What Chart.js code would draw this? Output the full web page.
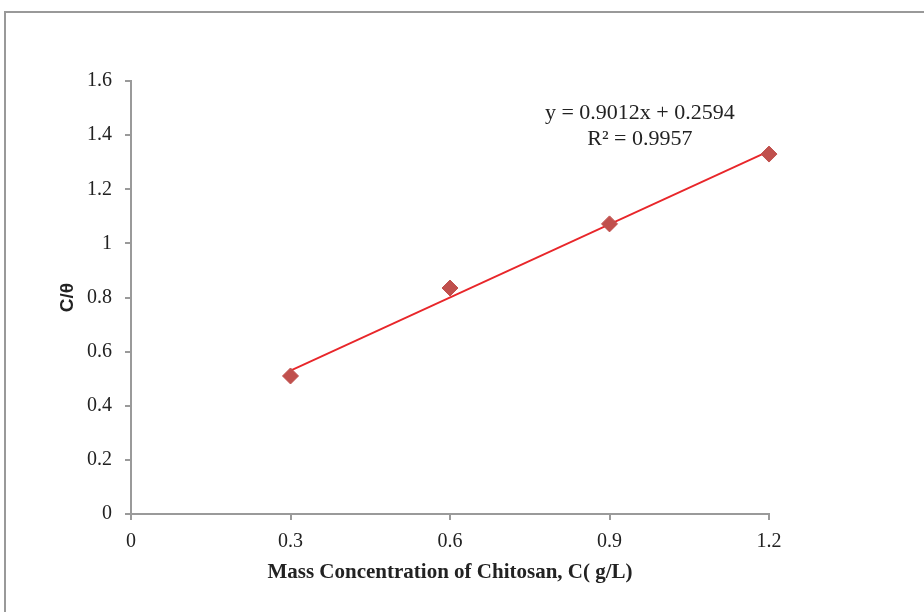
<!DOCTYPE html>
<html>
<head>
<meta charset="utf-8">
<script src="https://cdn.jsdelivr.net/npm/chart.js@4.4.1/dist/chart.umd.min.js"></script>
<style>
  html, body { margin: 0; padding: 0; background: #fff; overflow: hidden; }
  #frame { position: absolute; left: 4px; top: 11px; width: 940px; height: 640px; border: 2px solid #999; box-sizing: border-box; }
  #chart { position: absolute; left: 0; top: 0; }
</style>
</head>
<body>
<div id="frame"></div>
<canvas id="chart" width="924" height="612"></canvas>
<script>
// measured points
const concentration = [0.3, 0.6, 0.9, 1.2];
const cOverTheta = [0.51, 0.835, 1.072, 1.33];

// linear trendline as printed on the chart
const trendX = [0.3, 1.2];
const trendY = [0.530, 1.341];
const equationLines = ["y = 0.9012x + 0.2594", "R\u00b2 = 0.9957"];

const xTicks = [0, 0.3, 0.6, 0.9, 1.2];
const yTicks = [0, 0.2, 0.4, 0.6, 0.8, 1, 1.2, 1.4, 1.6];

const serif = "'Liberation Serif', 'Times New Roman', serif";
const axisGrey = "#9a9a9a";

// draws the regression text, anchored to data coordinates
const equationPlugin = {
  id: "equation",
  afterDatasetsDraw(chart) {
    const { ctx, scales } = chart;
    const cx = scales.x.getPixelForValue(0.957);
    const cy = scales.y.getPixelForValue(1.48);
    ctx.save();
    ctx.fillStyle = "#222";
    ctx.font = "22px " + serif;
    ctx.textAlign = "center";
    ctx.textBaseline = "middle";
    equationLines.forEach((t, i) => ctx.fillText(t, cx, cy + i * 26));
    ctx.restore();
  }
};

const ctx = document.getElementById("chart").getContext("2d");
new Chart(ctx, {
  type: "scatter",
  data: {
    datasets: [
      {
        label: "C/θ",
        data: concentration.map((x, i) => ({ x: x, y: cOverTheta[i] })),
        pointStyle: "rectRot",
        pointRadius: 8,
        pointHoverRadius: 8,
        backgroundColor: "#C0504D",
        borderColor: "#C0504D",
        borderWidth: 1,
        clip: false,
        order: 1
      },
      {
        label: "Linear",
        type: "line",
        data: trendX.map((x, i) => ({ x: x, y: trendY[i] })),
        borderColor: "#E8262A",
        borderWidth: 1.8,
        pointRadius: 0,
        fill: false,
        clip: false,
        order: 2
      }
    ]
  },
  options: {
    responsive: false,
    animation: false,
    devicePixelRatio: 1,
    layout: { padding: { left: 0, top: 81, right: 155, bottom: 0 } },
    plugins: {
      legend: { display: false },
      tooltip: { enabled: false }
    },
    scales: {
      x: {
        type: "linear",
        min: 0,
        max: 1.2,
        afterBuildTicks: (s) => { s.ticks = xTicks.map(v => ({ value: v })); },
        afterFit: (s) => { s.height = 98; },
        grid: { drawOnChartArea: false, drawTicks: true, tickLength: 6, color: axisGrey, lineWidth: 2 },
        border: { color: axisGrey, width: 2 },
        ticks: {
          color: "#222",
          padding: 10,
          maxRotation: 0,
          font: { family: serif, size: 20 },
          callback: (v) => String(Number(v.toFixed(1)))
        },
        title: {
          display: true,
          text: "Mass Concentration of Chitosan, C( g/L)",
          color: "#222",
          padding: 27,
          font: { family: serif, size: 21, weight: "bold" }
        }
      },
      y: {
        type: "linear",
        min: 0,
        max: 1.6,
        afterBuildTicks: (s) => { s.ticks = yTicks.map(v => ({ value: v })); },
        afterFit: (s) => { s.width = 131; },
        grid: { drawOnChartArea: false, drawTicks: true, tickLength: 6, color: axisGrey, lineWidth: 2 },
        border: { color: axisGrey, width: 2 },
        ticks: {
          color: "#222",
          padding: 13,
          font: { family: serif, size: 20 },
          callback: (v) => String(Number(v.toFixed(1)))
        },
        title: {
          display: true,
          text: "C/θ",
          color: "#222",
          padding: 56,
          font: { family: "'Liberation Sans', Arial, sans-serif", size: 19, weight: "bold" }
        }
      }
    }
  },
  plugins: [equationPlugin]
});
</script>
</body>
</html>
